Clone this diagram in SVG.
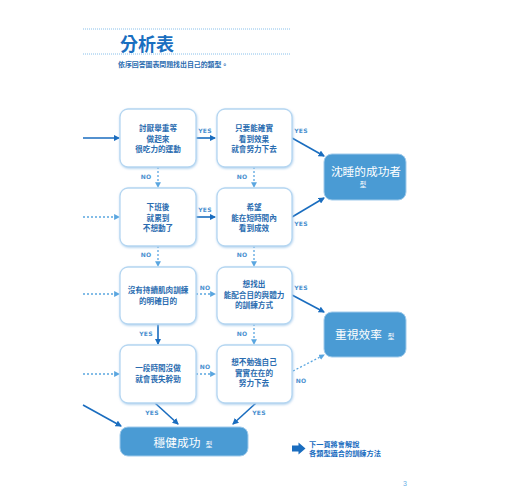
<svg xmlns="http://www.w3.org/2000/svg" width="520" height="500" viewBox="0 0 520 500">
<style>
.q rect{fill:#fff;stroke:#b5d6f1;stroke-width:1.3;filter:url(#sh)}
.q text{font-family:"Noto Sans CJK TC","Noto Sans CJK SC",sans-serif;font-size:7.6px;font-weight:bold;fill:#2a6cb0;text-anchor:middle}
.r rect{fill:#4a9bd4;stroke:#9fcaeb;stroke-width:1}
.r text{font-family:"Noto Sans CJK TC","Noto Sans CJK SC",sans-serif;fill:#fff;text-anchor:middle}
.s{stroke:#1a6dbf;stroke-width:1.6;fill:none}
.d{stroke:#5aa6e0;stroke-width:1.3;stroke-dasharray:2 2;fill:none}
.lb{font-family:"DejaVu Sans",sans-serif;font-size:6px;font-weight:bold;fill:#4a90cf;letter-spacing:0.3px;text-anchor:middle}
.nt{font-family:"Noto Sans CJK TC","Noto Sans CJK SC",sans-serif;font-size:7.2px;font-weight:bold;fill:#1a6dbf}
</style>
<defs>
<filter id="sh" x="-10%" y="-10%" width="125%" height="130%"><feDropShadow dx="0.5" dy="1" stdDeviation="0.8" flood-color="#9cc6ea" flood-opacity="0.8"/></filter>
<marker id="as" viewBox="0 0 6 6" refX="5" refY="3" markerWidth="4" markerHeight="4" orient="auto"><path d="M0,0 L6,3 L0,6 z" fill="#1a6dbf"/></marker>
<marker id="ad" viewBox="0 0 6 6" refX="5" refY="3" markerWidth="4.5" markerHeight="4.5" orient="auto"><path d="M0,0 L6,3 L0,6 z" fill="#5aa6e0"/></marker>
</defs>
<rect width="520" height="500" fill="#fff"/>
<g id="header">
<line x1="83" y1="29" x2="291" y2="29" stroke="#6ab0e6" stroke-width="0.8" stroke-dasharray="1 1"/>
<text x="120" y="51" font-family="Noto Sans CJK TC,Noto Sans CJK SC,sans-serif" font-size="18" font-weight="bold" fill="#1a6fc0">分析表</text>
<line x1="83" y1="54" x2="291" y2="54" stroke="#6ab0e6" stroke-width="0.8" stroke-dasharray="1 1"/>
<text x="118" y="67" font-family="Noto Sans CJK TC,Noto Sans CJK SC,sans-serif" font-size="6.9" font-weight="bold" fill="#2a6cb0">依序回答圖表問題找出自己的類型。</text>
</g>
<g id="connectors">
<line class="s" x1="83" y1="138" x2="119" y2="138" marker-end="url(#as)"/>
<line class="s" x1="196" y1="138" x2="215" y2="138" marker-end="url(#as)"/>
<line class="s" x1="292" y1="138" x2="324" y2="156" marker-end="url(#as)"/>
<line class="d" x1="158" y1="167" x2="158" y2="187" marker-end="url(#ad)"/>
<line class="d" x1="254" y1="167" x2="254" y2="187" marker-end="url(#ad)"/>
<line class="d" x1="83" y1="217" x2="119" y2="217" marker-end="url(#ad)"/>
<line class="s" x1="196" y1="217" x2="215" y2="217" marker-end="url(#as)"/>
<line class="s" x1="292" y1="217" x2="324" y2="198" marker-end="url(#as)"/>
<line class="d" x1="158" y1="246" x2="158" y2="266" marker-end="url(#ad)"/>
<line class="d" x1="254" y1="246" x2="254" y2="266" marker-end="url(#ad)"/>
<line class="d" x1="83" y1="294" x2="119" y2="294" marker-end="url(#ad)"/>
<line class="d" x1="196" y1="294" x2="215" y2="294" marker-end="url(#ad)"/>
<line class="s" x1="292" y1="295" x2="324" y2="312" marker-end="url(#as)"/>
<line class="s" x1="158" y1="324" x2="158" y2="344" marker-end="url(#as)"/>
<line class="d" x1="254" y1="324" x2="254" y2="344" marker-end="url(#ad)"/>
<line class="d" x1="83" y1="374" x2="119" y2="374" marker-end="url(#ad)"/>
<line class="d" x1="196" y1="374" x2="215" y2="374" marker-end="url(#ad)"/>
<line class="d" x1="293" y1="371" x2="324" y2="355" marker-end="url(#ad)"/>
<line class="s" x1="83" y1="405" x2="121" y2="426" marker-end="url(#as)"/>
<line class="s" x1="155" y1="403" x2="178" y2="424" marker-end="url(#as)"/>
<line class="s" x1="256" y1="403" x2="233" y2="424" marker-end="url(#as)"/>
<text class="lb" x="205" y="133">YES</text>
<text class="lb" x="301" y="133">YES</text>
<text class="lb" x="146" y="179">NO</text>
<text class="lb" x="242" y="179">NO</text>
<text class="lb" x="205" y="212">YES</text>
<text class="lb" x="301" y="226">YES</text>
<text class="lb" x="146" y="257">NO</text>
<text class="lb" x="242" y="257">NO</text>
<text class="lb" x="205" y="290">NO</text>
<text class="lb" x="301" y="290">YES</text>
<text class="lb" x="146" y="336">YES</text>
<text class="lb" x="242" y="336">NO</text>
<text class="lb" x="205" y="369">NO</text>
<text class="lb" x="301" y="383">NO</text>
<text class="lb" x="152" y="415">YES</text>
<text class="lb" x="259" y="415">YES</text>
</g>
<g id="q1" class="q"><rect x="120" y="109" width="76" height="58" rx="8"/><text x="158" y="131">討厭舉重等</text><text x="158" y="141.5">做起來</text><text x="158" y="152">很吃力的運動</text></g>
<g id="q2" class="q"><rect x="217" y="109" width="75" height="58" rx="8"/><text x="254" y="131">只要能確實</text><text x="254" y="141.5">看到效果</text><text x="254" y="152">就會努力下去</text></g>
<g id="q3" class="q"><rect x="120" y="188" width="76" height="58" rx="8"/><text x="158" y="210">下班後</text><text x="158" y="220.5">就累到</text><text x="158" y="231">不想動了</text></g>
<g id="q4" class="q"><rect x="217" y="188" width="75" height="58" rx="8"/><text x="254" y="210">希望</text><text x="254" y="220.5">能在短時間內</text><text x="254" y="231">看到成效</text></g>
<g id="q5" class="q"><rect x="120" y="267" width="76" height="57" rx="8"/><text x="158" y="293">沒有持續肌肉訓練</text><text x="158" y="303.5">的明確目的</text></g>
<g id="q6" class="q"><rect x="217" y="267" width="75" height="57" rx="8"/><text x="254" y="287">想找出</text><text x="254" y="297.5">能配合目的與體力</text><text x="254" y="308">的訓練方式</text></g>
<g id="q7" class="q"><rect x="120" y="345" width="76" height="58" rx="8"/><text x="158" y="371">一段時間沒做</text><text x="158" y="381.5">就會喪失幹勁</text></g>
<g id="q8" class="q"><rect x="217" y="345" width="75" height="58" rx="8"/><text x="254" y="365">想不勉強自己</text><text x="254" y="375.5">實實在在的</text><text x="254" y="386">努力下去</text></g>
<g id="r1" class="r"><rect x="324" y="154" width="82" height="46" rx="8"/><text x="366" y="176" font-size="11.7">沈睡的成功者</text><text x="363" y="187" font-size="6.5">型</text></g>
<g id="r2" class="r"><rect x="324" y="312" width="82" height="45" rx="8"/><text x="358.5" y="339" font-size="11.7">重視效率</text><text x="391" y="339" font-size="6.5">型</text></g>
<g id="r3" class="r"><rect x="120" y="427" width="128" height="29" rx="8"/><text x="177" y="446.5" font-size="11.7">穩健成功</text><text x="209" y="446.5" font-size="6.5">型</text></g>
<g id="note">
<path d="M292,445.5 L298.5,445.5 L298.5,442.5 L305.5,448.5 L298.5,454.5 L298.5,451.5 L292,451.5 z" fill="#1a6dbf"/>
<text class="nt" x="309" y="446.5">下一頁將會解說</text>
<text class="nt" x="309" y="456">各類型適合的訓練方法</text>
</g>
<text x="403" y="486" font-family="Liberation Sans,sans-serif" font-size="7" fill="#6ab0e6">3</text>
</svg>
